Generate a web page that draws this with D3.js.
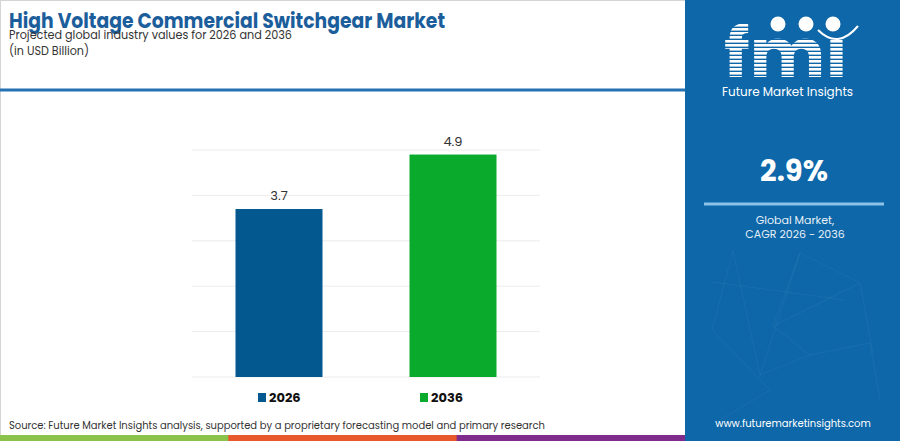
<!doctype HTML>
<html>
<head>
    <style>
        body { margin: 0; background: #ffffff; }
        text { font-family: "Poppins", "Inter", "Open Sans", sans-serif; }
    </style>
    <script src="https://d3js.org/d3.v7.min.js"></script>
</head>
<body>
<div id="barChart"></div>
<script>

    // chart values
    var years = ["2026", "2036"];
    var values = [3.7, 4.9];
    var valueLabels = ["3.7", "4.9"];
    var gridTicks = [0, 1, 2, 3, 4, 5];
    var barColors = ["#03588f", "#0aab2c"];

    var canvasWidth = 900;
    var canvasHeight = 441;
    var panelX = 685;
    var panelColor = "#0d67a9";

    var svg = d3.select("#barChart").append("svg")
        .attr("width", canvasWidth)
        .attr("height", canvasHeight);

    // background + thin border
    svg.append("rect")
        .attr("x", 0.5).attr("y", 0.5)
        .attr("width", canvasWidth - 1).attr("height", canvasHeight - 1)
        .attr("fill", "#ffffff")
        .attr("stroke", "#d4d4d4");

    // title block
    svg.append("text")
        .attr("x", 9).attr("y", 28)
        .attr("font-size", "21px")
        .attr("font-weight", "bold")
        .attr("fill", "#1b5e9b")
        .attr("textLength", 436)
        .attr("lengthAdjust", "spacingAndGlyphs")
        .text("High Voltage Commercial Switchgear Market");

    svg.append("text")
        .attr("x", 9).attr("y", 39)
        .attr("font-size", "13px")
        .attr("fill", "#333333")
        .attr("textLength", 283)
        .attr("lengthAdjust", "spacingAndGlyphs")
        .text("Projected global industry values for 2026 and 2036");

    svg.append("text")
        .attr("x", 9).attr("y", 55)
        .attr("font-size", "13px")
        .attr("fill", "#333333")
        .attr("textLength", 80)
        .attr("lengthAdjust", "spacingAndGlyphs")
        .text("(in USD Billion)");

    // blue separator under the header
    svg.append("line")
        .attr("x1", 0).attr("x2", panelX)
        .attr("y1", 90).attr("y2", 90)
        .attr("stroke", "#2471b3")
        .attr("stroke-width", 3);

    // scales
    var x = d3.scaleBand()
        .domain(years)
        .range([192, 540])
        .paddingInner(0.5)
        .paddingOuter(0.25);

    var y = d3.scaleLinear()
        .domain([0, 5])
        .range([377, 150]);

    // gridlines
    svg.append("g")
        .selectAll("line")
        .data(gridTicks)
        .join("line")
        .attr("x1", 192).attr("x2", 540)
        .attr("y1", d => y(d)).attr("y2", d => y(d))
        .attr("stroke", "#ececec")
        .attr("stroke-width", 1);

    // bars
    svg.append("g")
        .selectAll("rect")
        .data(values)
        .join("rect")
        .attr("x", (d, i) => x(years[i]))
        .attr("y", d => y(d))
        .attr("width", x.bandwidth())
        .attr("height", d => y(0) - y(d))
        .attr("fill", (d, i) => barColors[i]);

    // value labels
    svg.append("g")
        .selectAll("text")
        .data(values)
        .join("text")
        .attr("x", (d, i) => x(years[i]) + x.bandwidth() / 2)
        .attr("y", d => y(d) - 9)
        .attr("text-anchor", "middle")
        .attr("font-size", "13px")
        .attr("fill", "#333333")
        .text((d, i) => valueLabels[i]);

    // legend
    var legendX = [258, 420];
    var legend = svg.append("g")
        .selectAll("g")
        .data(years)
        .join("g")
        .attr("transform", (d, i) => "translate(" + legendX[i] + ", 392)");

    legend.append("rect")
        .attr("width", 8).attr("height", 9)
        .attr("y", 1)
        .attr("fill", (d, i) => barColors[i]);

    legend.append("text")
        .attr("x", 11).attr("y", 10)
        .attr("font-size", "13px")
        .attr("font-weight", "bold")
        .attr("fill", "#111111")
        .text(d => d);

    // source note
    svg.append("text")
        .attr("x", 9).attr("y", 429)
        .attr("font-size", "11px")
        .attr("fill", "#333333")
        .attr("textLength", 536)
        .attr("lengthAdjust", "spacingAndGlyphs")
        .text("Source: Future Market Insights analysis, supported by a proprietary forecasting model and primary research");

    // coloured strip at the bottom
    var stripColors = ["#8bc34a", "#e8582a", "#7e2b8c"];
    svg.append("g")
        .selectAll("rect")
        .data(stripColors)
        .join("rect")
        .attr("x", (d, i) => i * panelX / 3)
        .attr("y", 435)
        .attr("width", panelX / 3 + 1)
        .attr("height", 6)
        .attr("fill", d => d);

    // right side panel
    svg.append("rect")
        .attr("x", panelX).attr("y", 0)
        .attr("width", canvasWidth - panelX).attr("height", canvasHeight)
        .attr("fill", panelColor);

    // faint network decoration
    var net = [[733,251,760,375],[733,251,712,330],[800,253,773,326],[800,253,860,283],[773,326,860,283],
               [712,330,770,390],[773,326,810,355],[810,355,870,343],[860,283,873,353],[760,375,810,355],
               [712,282,845,300],[720,420,770,390],[870,343,880,400],[800,253,760,375]];
    svg.append("g")
        .selectAll("line")
        .data(net)
        .join("line")
        .attr("x1", d => d[0]).attr("y1", d => d[1])
        .attr("x2", d => d[2]).attr("y2", d => d[3])
        .attr("stroke", "#ffffff")
        .attr("stroke-opacity", 0.05)
        .attr("stroke-width", 1);

    // fmi logo: striped letters
    var defs = svg.append("defs");
    var stripes = defs.append("pattern")
        .attr("id", "stripes")
        .attr("patternUnits", "userSpaceOnUse")
        .attr("width", 10).attr("height", 4);
    stripes.append("rect").attr("width", 10).attr("height", 4).attr("fill", "#ffffff");
    stripes.append("rect").attr("y", 2.6).attr("width", 10).attr("height", 1.4).attr("fill", panelColor);

    svg.append("text")
        .attr("x", 724).attr("y", 77)
        .attr("font-family", "DejaVu Serif")
        .attr("font-size", "68px")
        .attr("font-weight", "bold")
        .attr("fill", "url(#stripes)")
        .attr("textLength", 124)
        .attr("lengthAdjust", "spacingAndGlyphs")
        .text("fmı");

    // globe circles above the letters
    svg.append("g")
        .selectAll("circle")
        .data([778, 806, 833])
        .join("circle")
        .attr("cx", d => d).attr("cy", 24)
        .attr("r", 7.5)
        .attr("fill", "#ffffff");

    svg.append("path")
        .attr("d", "M818,30 Q838,50 858,26")
        .attr("fill", "none")
        .attr("stroke", "#ffffff")
        .attr("stroke-width", 2);

    svg.append("text")
        .attr("x", 722).attr("y", 96)
        .attr("font-size", "13px")
        .attr("fill", "#ffffff")
        .attr("textLength", 131)
        .attr("lengthAdjust", "spacingAndGlyphs")
        .text("Future Market Insights");

    // CAGR block
    svg.append("text")
        .attr("x", 794).attr("y", 181)
        .attr("text-anchor", "middle")
        .attr("font-size", "29px")
        .attr("font-weight", "bold")
        .attr("fill", "#ffffff")
        .text("2.9%");

    svg.append("line")
        .attr("x1", 704).attr("x2", 884)
        .attr("y1", 204).attr("y2", 204)
        .attr("stroke", "#8ec3e8")
        .attr("stroke-width", 3);

    svg.append("text")
        .attr("x", 795).attr("y", 224)
        .attr("text-anchor", "middle")
        .attr("font-size", "11px")
        .attr("fill", "#e8f0f8")
        .text("Global Market,");

    svg.append("text")
        .attr("x", 795).attr("y", 238)
        .attr("text-anchor", "middle")
        .attr("font-size", "11px")
        .attr("fill", "#e8f0f8")
        .text("CAGR 2026 - 2036");

    svg.append("text")
        .attr("x", 793).attr("y", 427)
        .attr("text-anchor", "middle")
        .attr("font-size", "10px")
        .attr("fill", "#ffffff")
        .text("www.futuremarketinsights.com");

</script>
</body>
</html>
